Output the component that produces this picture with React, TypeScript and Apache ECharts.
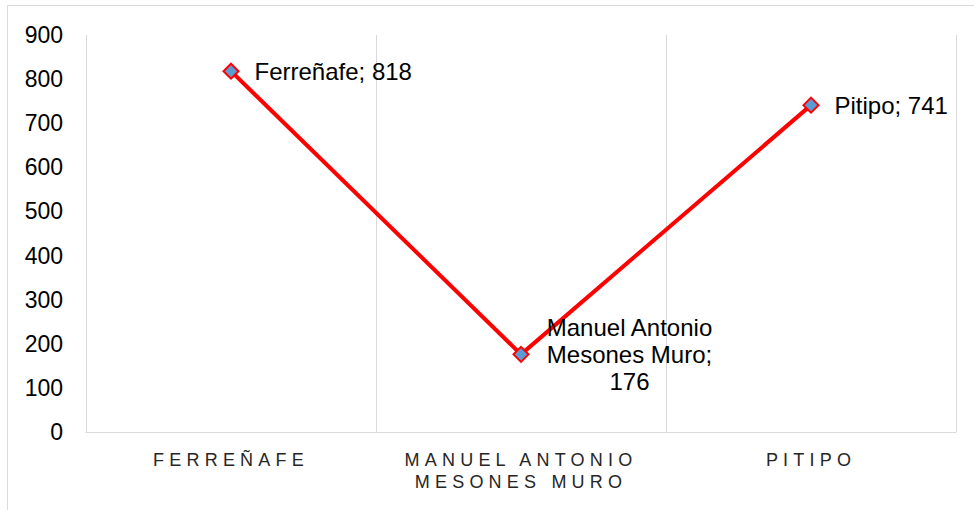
import React, { useEffect, useRef } from "react";
import * as echarts from "echarts";

const categories = ["FERREÑAFE", "MANUEL ANTONIO\nMESONES MURO", "PITIPO"];
const pointNames = ["Ferreñafe", "Manuel Antonio\nMesones Muro", "Pitipo"];
const values = [818, 176, 741];
const yMin = 0;
const yMax = 900;
const yInterval = 100;

export default function App() {
  const ref = useRef<HTMLDivElement>(null);
  useEffect(() => {
    if (!ref.current) return;
    const chart = echarts.init(ref.current, null, { renderer: "svg" });
    const gray = "#d9d9d9";
    chart.setOption({
      animation: false,
      backgroundColor: "#fff",
      textStyle: { fontFamily: "Liberation Sans, Arial, sans-serif" },
      graphic: [
        {
          type: "rect",
          shape: { x: 7.5, y: 5.5, width: 1000, height: 600 },
          style: { fill: "none", stroke: gray, lineWidth: 1 },
          silent: true,
        },
      ],
      grid: { left: 86, right: 18, top: 35, bottom: 78 },
      xAxis: {
        type: "category",
        data: categories,
        boundaryGap: true,
        axisLine: { show: true, lineStyle: { color: gray, width: 1 } },
        axisTick: { show: false },
        axisLabel: {
          interval: 0,
          color: "#262626",
          fontSize: 18,
          lineHeight: 22,
          margin: 17,
        },
        splitLine: { show: true, interval: 0, lineStyle: { color: gray, width: 1 } },
      },
      yAxis: {
        type: "value",
        min: yMin,
        max: yMax,
        interval: yInterval,
        axisLine: { show: false },
        axisTick: { show: false },
        splitLine: { show: false },
        axisLabel: { color: "#000", fontSize: 23, margin: 23 },
      },
      series: [
        {
          type: "line",
          data: values.map((v, i) => ({
            value: v,
            name: pointNames[i],
            label:
              i === 1
                ? {
                    position: "right",
                    distance: 100,
                    align: "center",
                    formatter: (p: any) => `${p.name};\n${p.value}`,
                  }
                : undefined,
          })),
          lineStyle: { color: "#ff0000", width: 4 },
          symbol: "diamond",
          symbolSize: 15,
          itemStyle: { color: "#5b9bd5", borderColor: "#ff0000", borderWidth: 2 },
          label: {
            show: true,
            position: "right",
            distance: 15,
            color: "#000",
            fontSize: 24,
            lineHeight: 27,
            formatter: (p: any) => `${p.name}; ${p.value}`,
          },
        },
      ],
    });
    // letter spacing for category labels (Excel-like)
    const upper = new Set<string>();
    categories.forEach((c) => c.split("\n").forEach((l) => upper.add(l)));
    ref.current.querySelectorAll("text").forEach((t) => {
      const s = (t.textContent || "").trim();
      if (upper.has(s)) {
        (t as SVGTextElement).setAttribute("letter-spacing", "5.2");
      }
    });
    return () => chart.dispose();
  }, []);
  return <div ref={ref} style={{ width: 974, height: 510, position: "absolute", left: 0, top: 0 }} />;
}
